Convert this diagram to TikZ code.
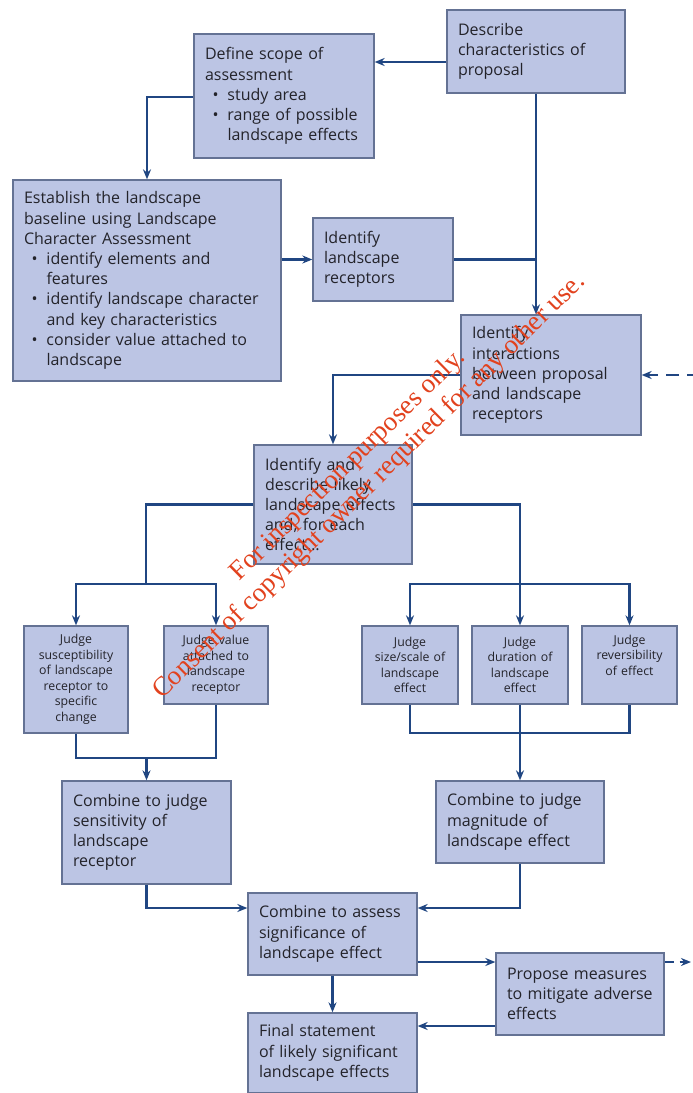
\documentclass[tikz,border=0pt]{standalone}
\usepackage{fontspec}
\setmainfont{Open Sans}
\newfontfamily\wmfont{Liberation Serif}
\usetikzlibrary{arrows.meta}
\definecolor{boxfill}{RGB}{188,197,228}
\definecolor{boxline}{RGB}{100,114,148}
\definecolor{conn}{RGB}{32,70,130}
\definecolor{txt}{RGB}{35,35,42}
\definecolor{wm}{RGB}{226,66,30}
\newcommand\bitem[1]{\hspace*{7.5pt}\makebox[15pt][l]{\textbullet}#1}
\newcommand\bcont[1]{\hspace*{22.5pt}#1}
\newcommand\mybox[7]{%
  \pgfmathsetmacro\cx{(#3+#5)/2}\pgfmathsetmacro\cy{(#4+#6)/2}%
  \pgfmathsetmacro\bw{#5-#3}\pgfmathsetmacro\bh{#6-#4}\pgfmathsetmacro\tw{#5-#3-22}%
  \node[#1, minimum width=\bw pt, minimum height=\bh pt, text width=\tw pt] (#2) at (\cx,\cy) {#7};}
\begin{document}
\begin{tikzpicture}[x=1pt,y=-1pt,
  bx/.style={draw=boxline, line width=1.3pt, fill=boxfill, text=txt,
    font=\fontsize{16}{20.2}\selectfont, align=left, inner xsep=11pt, inner ysep=0pt},
  sbx/.style={bx, font=\fontsize{12.3}{15.5}\selectfont, align=center},
  ln/.style={draw=conn, line width=2.1pt},
  arr/.style={ln, -{Stealth[length=10pt,width=8pt]}},
  dsh/.style={dash pattern=on 13pt off 8pt}]
\useasboundingbox (0,0) rectangle (693,1093);
\fill[white] (0,0) rectangle (693,1093);
% boxes
\mybox{bx}{desc}{447}{10}{625}{93}{Describe\\characteristics of\\proposal}
\mybox{bx}{scope}{194}{34}{374}{158}{Define scope of\\assessment\\\bitem{study area}\\\bitem{range of possible}\\\bcont{landscape effects}}
\mybox{bx}{base}{13}{180}{281}{381}{Establish the landscape\\baseline using Landscape\\Character Assessment\\\bitem{identify elements and}\\\bcont{features}\\\bitem{identify landscape character}\\\bcont{and key characteristics}\\\bitem{consider value attached to}\\\bcont{landscape}}
\mybox{bx}{recep}{313}{218}{453}{301}{Identify\\landscape\\receptors}
\mybox{bx}{inter}{461}{315}{641}{435}{Identify\\interactions\\between proposal\\and landscape\\receptors}
\mybox{bx}{ident}{254}{445}{412}{564}{Identify and\\describe likely\\landscape effects\\and, for each\\effect\ldots}
\mybox{sbx}{j1}{24}{626}{128}{733}{Judge\\susceptibility\\of landscape\\receptor to\\specific\\change}
\mybox{sbx}{j2}{164}{626}{268}{704}{Judge value\\attached to\\landscape\\receptor}
\mybox{sbx}{j3}{362}{626}{458}{704}{Judge\\size/scale of\\landscape\\effect}
\mybox{sbx}{j4}{472}{626}{568}{704}{Judge\\duration of\\landscape\\effect}
\mybox{sbx}{j5}{582}{626}{677}{704}{Judge\\reversibility\\of effect\\\strut}
\mybox{bx}{sens}{62}{781}{231}{884}{Combine to judge\\sensitivity of\\landscape\\receptor}
\mybox{bx}{magn}{436}{781}{604}{863}{Combine to judge\\magnitude of\\landscape effect}
\mybox{bx}{sig}{248}{893}{417}{975}{Combine to assess\\significance of\\landscape effect}
\mybox{bx}{prop}{496}{953}{664}{1035}{Propose measures\\to mitigate adverse\\effects}
\mybox{bx}{final}{248}{1013}{417}{1093}{Final statement\\of likely significant\\landscape effects}
% connectors
\coordinate (a1) at ([yshift=-10.5pt]desc.west);
\draw[arr] (a1) -- (a1 -| scope.east);
\draw[arr] ([yshift=-1pt]scope.west) -| (base.north);
\draw[arr] (desc.south) -- (desc.south |- inter.north);
\draw[arr] (recep.west -| base.east) -- (recep.west);
\draw[ln] (recep.east) -- (recep.east -| desc.south);
\draw[arr] (inter.west) -| (ident.north);
\coordinate (dr) at (700,375);
\draw[arr,dsh] (dr) -- (inter.east);
\coordinate (ls) at (146,584);
\coordinate (rs) at (520,584);
\draw[ln] (ident.west) -| (ls);
\draw[arr] (ls) -| (j1.north);
\draw[arr] (ls) -| (j2.north);
\draw[arr] (ident.east) -| (j4.north);
\draw[arr] (rs) -| (j3.north);
\draw[arr] (rs) -| (j5.north);
\coordinate (lm) at (146.5,758);
\draw[ln] (j1.south) |- (j2.south |- lm) -- (j2.south);
\draw[arr] (lm) -- (sens.north);
\coordinate (rm) at (520,733);
\draw[ln] (j3.south) |- (j5.south |- rm) -- (j5.south);
\draw[arr] (j4.south) -- (magn.north);
\draw[arr] (sens.south) |- ([yshift=26pt]sig.west);
\draw[arr] (magn.south) |- ([yshift=26pt]sig.east);
\coordinate (a2) at ([yshift=-28pt]sig.east);
\draw[arr] (a2) -- (a2 -| prop.west);
\draw[arr] (sig.south) -- (final.north);
\coordinate (a3) at ([yshift=-32pt]prop.west);
\draw[arr] (a3) -- (a3 -| final.east);
\coordinate (a4) at ([yshift=32pt]prop.east);
\coordinate (dr2) at (691,962);
\draw[arr,dash pattern=on 9pt off 6pt] (a4) -- (dr2);
% watermark
\node[text=wm, font=\wmfont\fontsize{27}{30}\selectfont, align=center, rotate=44.5, inner sep=0pt] (wmk) at (359,476)
  {For inspection purposes only.\\Consent of copyright owner required for any other use.};
\end{tikzpicture}
\end{document}
